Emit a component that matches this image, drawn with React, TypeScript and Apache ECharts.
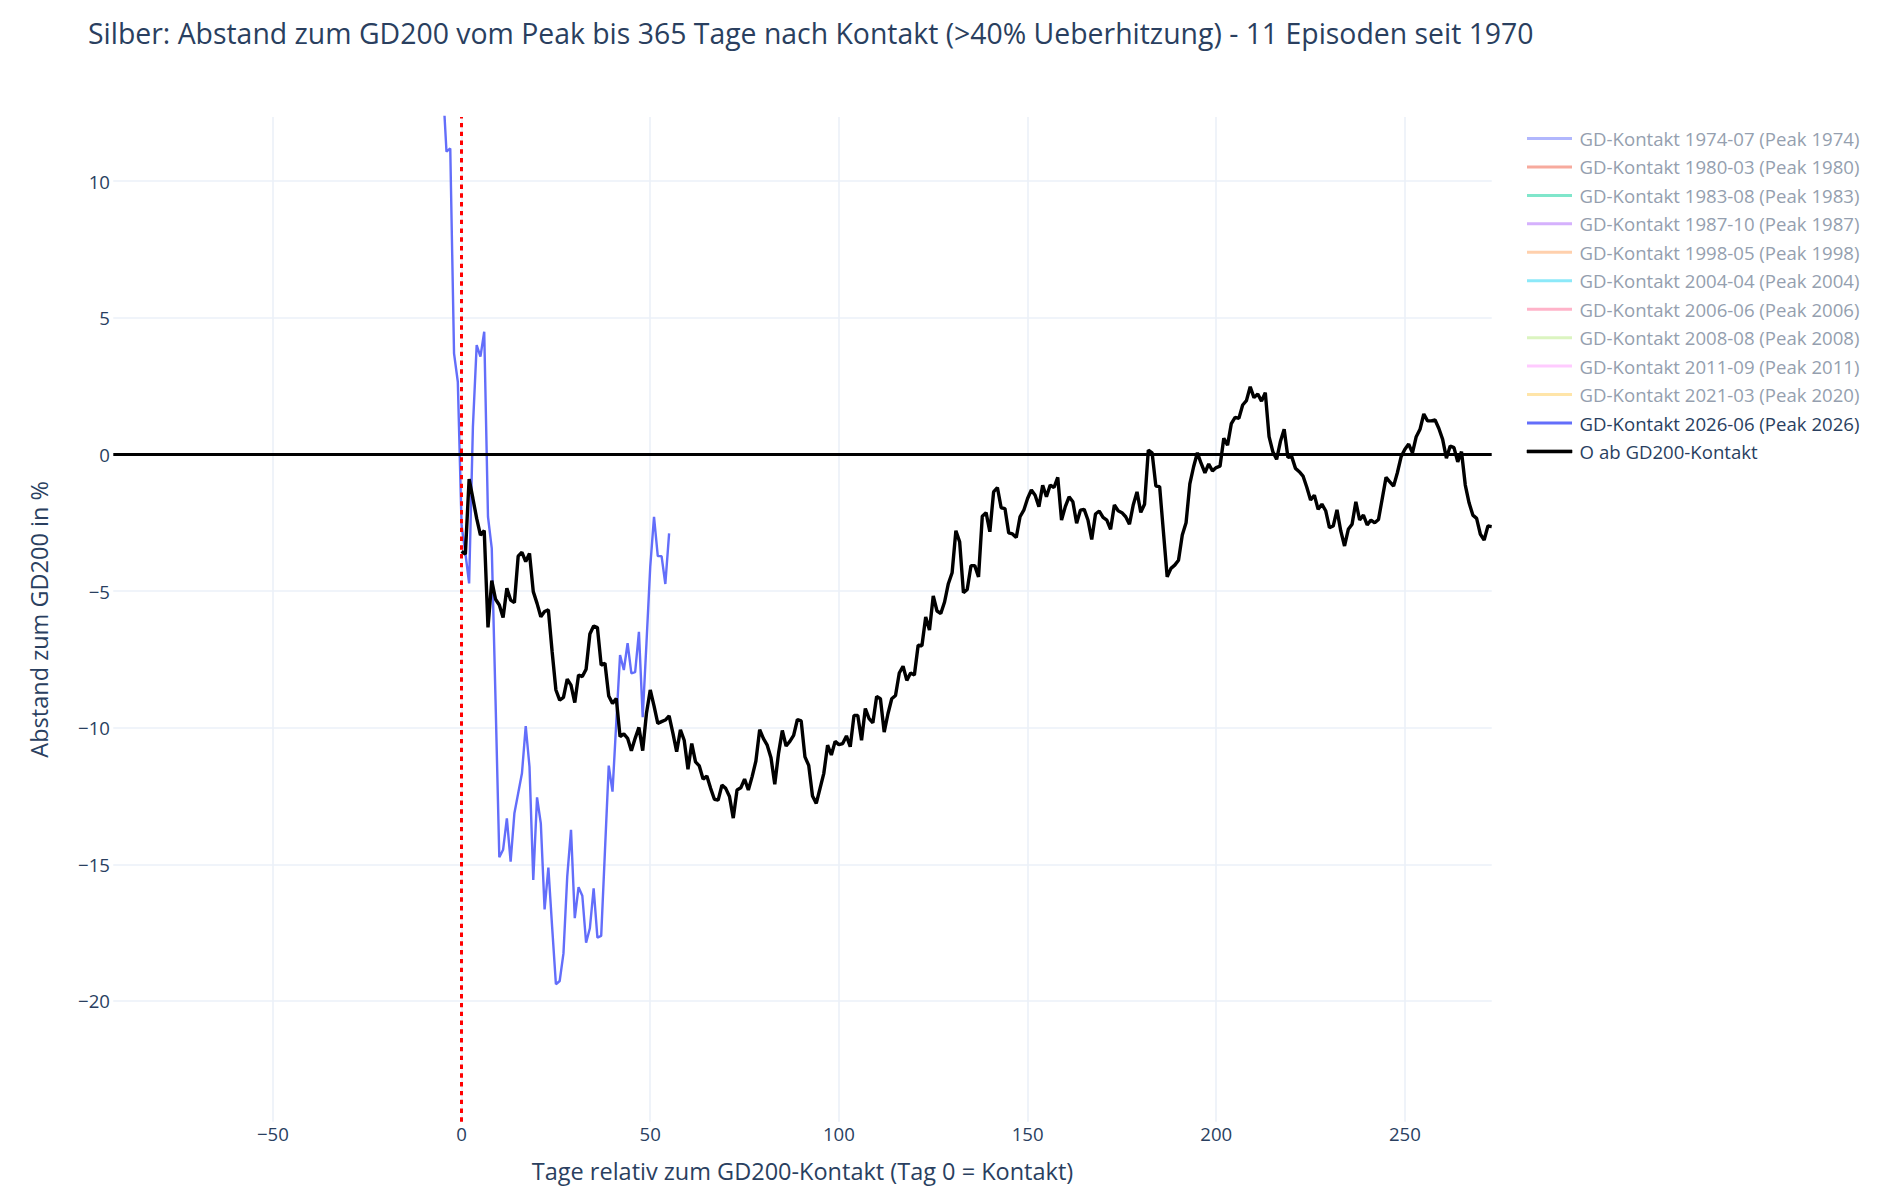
import React, { useEffect, useRef } from "react";
import * as echarts from "echarts";

const TITLE = "Silber: Abstand zum GD200 vom Peak bis 365 Tage nach Kontakt (>40% Ueberhitzung) - 11 Episoden seit 1970";
const X_TITLE = "Tage relativ zum GD200-Kontakt (Tag 0 = Kontakt)";
const Y_TITLE = "Abstand zum GD200 in %";

const episodeNames = [
  "GD-Kontakt 1974-07 (Peak 1974)",
  "GD-Kontakt 1980-03 (Peak 1980)",
  "GD-Kontakt 1983-08 (Peak 1983)",
  "GD-Kontakt 1987-10 (Peak 1987)",
  "GD-Kontakt 1998-05 (Peak 1998)",
  "GD-Kontakt 2004-04 (Peak 2004)",
  "GD-Kontakt 2006-06 (Peak 2006)",
  "GD-Kontakt 2008-08 (Peak 2008)",
  "GD-Kontakt 2011-09 (Peak 2011)",
  "GD-Kontakt 2021-03 (Peak 2020)",
];
// hidden (legend-only) episodes: faded plotly colours
const episodeColors = [
  "#b1b7fd", "#f7aa9d", "#80e6cb", "#d5b1fd", "#ffd0ad",
  "#8ce9f9", "#ffb3c9", "#dbf4c0", "#ffcbff", "#ffe5a9",
];
const currentName = "GD-Kontakt 2026-06 (Peak 2026)";
const avgName = "O ab GD200-Kontakt";

// current episode 2026-06, days from -5
const currentStartDay = -5;
const currentValues = [
  13.6, 11.08, 11.2, 3.7, 2.66, -2.6, -3.6, -4.72, 1.0, 4.0,
  3.58, 4.49, -2.28, -3.44, -9.0, -14.74, -14.47, -13.32, -14.9, -13.13,
  -12.4, -11.67, -9.94, -11.43, -15.57, -12.55, -13.5, -16.65, -15.12, -17.3,
  -19.39, -19.27, -18.26, -15.45, -13.74, -16.97, -15.84, -16.15, -17.87, -17.34,
  -15.88, -17.68, -17.62, -14.5, -11.39, -12.34, -9.8, -7.34, -7.89, -6.91,
  -8.01, -7.97, -6.49, -9.62, -6.9, -4.11, -2.28, -3.72, -3.72, -4.74,
  -2.89,
];

// average from GD200 contact, days from 0
const avgStartDay = 0;
const avgValues = [
  -3.55, -3.65, -0.9, -1.61, -2.34, -2.95, -2.79, -6.33, -4.62, -5.3,
  -5.51, -5.97, -4.9, -5.33, -5.42, -3.72, -3.58, -3.92, -3.62, -5.02,
  -5.45, -5.94, -5.75, -5.69, -7.22, -8.62, -8.99, -8.89, -8.22, -8.44,
  -9.08, -8.07, -8.13, -7.86, -6.57, -6.28, -6.34, -7.71, -7.64, -8.84,
  -9.11, -8.93, -10.33, -10.23, -10.39, -10.84, -10.39, -9.99, -10.84, -9.47,
  -8.62, -9.2, -9.84, -9.78, -9.72, -9.57, -10.2, -10.88, -10.08, -10.46,
  -11.52, -10.58, -11.25, -11.4, -11.88, -11.77, -12.22, -12.62, -12.65, -12.1,
  -12.22, -12.52, -13.31, -12.28, -12.2, -11.88, -12.28, -11.79, -11.22, -10.07,
  -10.4, -10.64, -11.1, -12.07, -10.94, -10.1, -10.67, -10.5, -10.28, -9.7,
  -9.75, -11.07, -11.38, -12.5, -12.77, -12.22, -11.67, -10.64, -11.0, -10.5,
  -10.62, -10.58, -10.3, -10.7, -9.55, -9.55, -10.46, -9.3, -9.67, -9.82,
  -8.86, -8.94, -10.16, -9.49, -8.94, -8.82, -8.0, -7.75, -8.27, -8.0,
  -8.07, -6.98, -7.0, -5.95, -6.43, -5.18, -5.73, -5.82, -5.4, -4.73,
  -4.33, -2.79, -3.2, -5.06, -4.94, -4.07, -4.07, -4.48, -2.26, -2.13,
  -2.83, -1.37, -1.21, -1.95, -1.98, -2.87, -2.91, -3.04, -2.28, -2.04,
  -1.61, -1.3, -1.49, -1.91, -1.13, -1.55, -1.12, -1.21, -0.84, -2.4,
  -1.91, -1.55, -1.73, -2.52, -2.04, -2.01, -2.4, -3.11, -2.18, -2.07,
  -2.3, -2.4, -2.74, -1.85, -2.06, -2.13, -2.28, -2.55, -1.85, -1.37,
  -2.12, -1.82, 0.16, 0.06, -1.16, -1.18, -2.83, -4.48, -4.17, -4.05,
  -3.87, -2.95, -2.5, -1.08, -0.45, 0.06, -0.33, -0.67, -0.35, -0.6,
  -0.48, -0.43, 0.59, 0.34, 1.13, 1.36, 1.32, 1.81, 1.97, 2.48,
  2.08, 2.21, 1.95, 2.26, 0.65, 0.1, -0.18, 0.47, 0.92, -0.11,
  -0.08, -0.51, -0.63, -0.79, -1.2, -1.67, -1.49, -2.01, -1.82, -2.06,
  -2.68, -2.62, -2.03, -2.8, -3.35, -2.74, -2.55, -1.73, -2.4, -2.22,
  -2.58, -2.4, -2.5, -2.38, -1.61, -0.84, -1.0, -1.16, -0.67, -0.08,
  0.19, 0.38, 0.06, 0.65, 0.92, 1.48, 1.23, 1.23, 1.26, 0.95,
  0.55, -0.14, 0.31, 0.25, -0.27, 0.1, -1.12, -1.77, -2.22, -2.34,
  -2.92, -3.13, -2.62, -2.64,
];

const contactDay = 0;
const zeroLevel = 0;
const xRange = [-92.3, 273];
const yRange = [-24.42, 12.35];

const FONT = "'Open Sans', 'DejaVu Sans', sans-serif";
const TXT = "#2a3f5f";
const TXT_FADED = "#959faf";
const GRID_COLOR = "#EBF0F8";

const fmt = (v: number) => (v < 0 ? "\u2212" + Math.abs(v) : String(v));

export default function App() {
  const ref = useRef<HTMLDivElement>(null);

  useEffect(() => {
    document.body.style.margin = "0";
    if (!ref.current) return;
    const chart = echarts.init(ref.current, undefined, { renderer: "svg" });

    const currentData = currentValues.map((v, i) => [currentStartDay + i, v]);
    const avgData = avgValues.map((v, i) => [avgStartDay + i, v]);

    const hiddenSeries = episodeNames.map((name, i) => ({
      name,
      type: "line",
      data: [] as number[][],
      symbol: "none",
      color: episodeColors[i],
      lineStyle: { width: 2.4, color: episodeColors[i] },
    }));

    const legendData = [
      ...episodeNames.map((name, i) => ({
        name,
        itemStyle: { color: episodeColors[i] },
        textStyle: { color: TXT_FADED },
      })),
      { name: currentName, itemStyle: { color: "#636efa" }, textStyle: { color: TXT } },
      {
        name: avgName,
        itemStyle: { color: "#000000", borderColor: "#000000", borderWidth: 0.6 },
        textStyle: { color: TXT },
      },
    ];

    chart.setOption({
      animation: false,
      backgroundColor: "#ffffff",
      title: {
        text: TITLE,
        left: 88,
        top: 18.6,
        padding: 0,
        textStyle: { fontFamily: FONT, fontSize: 28.4, fontWeight: "normal", color: TXT },
      },
      legend: {
        orient: "vertical",
        left: 1526.7,
        top: 129,
        padding: 0,
        itemWidth: 45,
        itemHeight: 3,
        itemGap: 9.45,
        icon: "rect",
        selectedMode: false,
        textStyle: { fontFamily: FONT, fontSize: 18.6, color: TXT, padding: [0, 0, 0, 2.6] },
        data: legendData,
      },
      grid: { left: 113.3, right: 397.3, top: 117, bottom: 82.3, containLabel: false },
      xAxis: {
        type: "value",
        min: xRange[0],
        max: xRange[1],
        splitNumber: 7,
        axisLine: { show: false },
        axisTick: { show: false },
        axisLabel: {
          showMinLabel: false,
          showMaxLabel: false,
          margin: 2,
          fontFamily: FONT,
          fontSize: 18.6,
          color: TXT,
          formatter: fmt,
        },
        splitLine: { show: true, showMinLine: false, showMaxLine: false, lineStyle: { color: GRID_COLOR, width: 1.6 } },
      },
      yAxis: {
        type: "value",
        min: yRange[0],
        max: yRange[1],
        splitNumber: 7,
        axisLine: { show: false },
        axisTick: { show: false },
        axisLabel: {
          showMinLabel: false,
          showMaxLabel: false,
          margin: 3.3,
          fontFamily: FONT,
          fontSize: 18.6,
          color: TXT,
          formatter: fmt,
        },
        splitLine: { show: true, showMinLine: false, showMaxLine: false, lineStyle: { color: GRID_COLOR, width: 1.6 } },
      },
      graphic: [
        {
          type: "text",
          x: 38.8,
          y: 619.4,
          rotation: Math.PI / 2,
          style: {
            text: Y_TITLE,
            fontFamily: FONT,
            fontSize: 23.5,
            fill: TXT,
            align: "center",
            verticalAlign: "middle",
          },
        },
        {
          type: "text",
          x: 802.5,
          y: 1171,
          style: {
            text: X_TITLE,
            fontFamily: FONT,
            fontSize: 23.5,
            fill: TXT,
            align: "center",
            verticalAlign: "middle",
          },
        },
      ],
      series: [
        ...hiddenSeries,
        {
          name: currentName,
          type: "line",
          data: currentData,
          symbol: "none",
          color: "#636efa",
          lineStyle: { width: 2.4, color: "#636efa" },
          clip: true,
          z: 2,
        },
        {
          name: avgName,
          type: "line",
          data: avgData,
          symbol: "none",
          color: "#000000",
          lineStyle: { width: 3.4, color: "#000000" },
          clip: true,
          z: 3,
          markLine: {
            silent: true,
            symbol: ["none", "none"],
            label: { show: false },
            data: [
              { xAxis: contactDay, lineStyle: { color: "#ff0000", width: 3, type: [4.4, 4.4] } },
              { yAxis: zeroLevel, lineStyle: { color: "#000000", width: 3, type: "solid" } },
            ],
          },
        },
      ],
    });

    return () => chart.dispose();
  }, []);

  return <div ref={ref} style={{ width: 1889, height: 1204 }} />;
}
